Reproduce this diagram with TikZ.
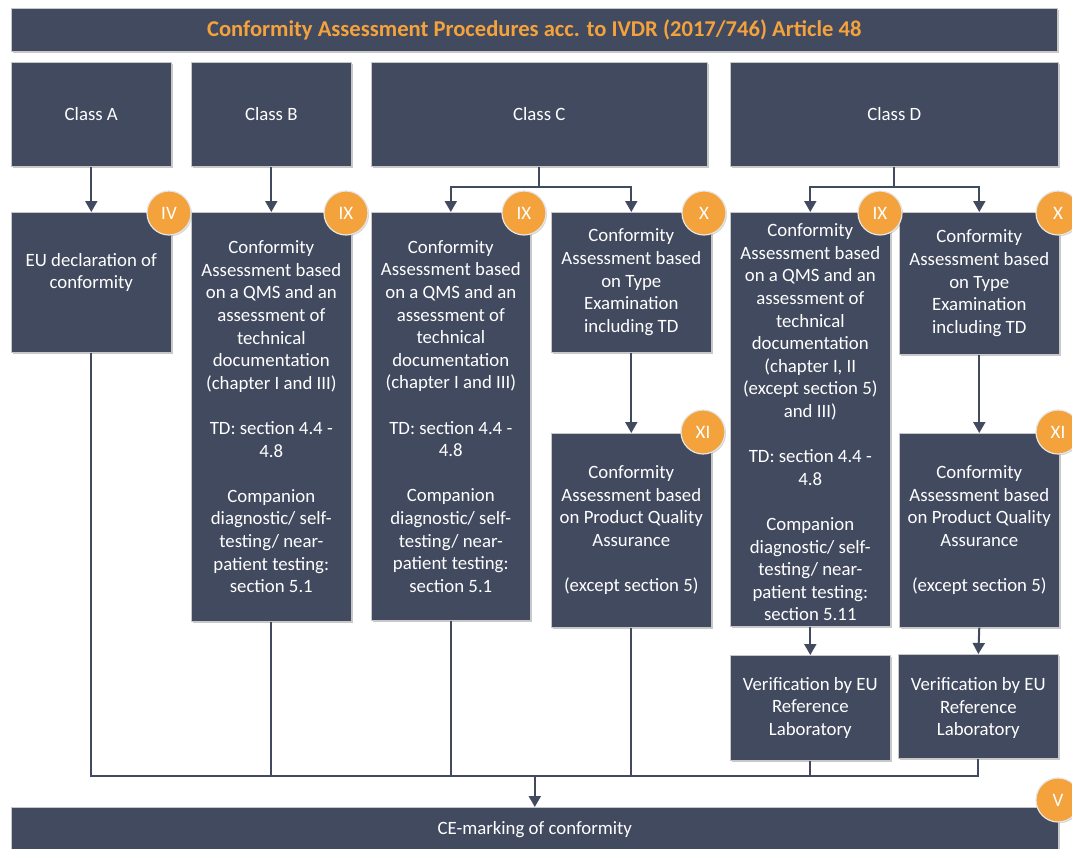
\documentclass[tikz,border=0pt]{standalone}
\usepackage{fontspec}
\setmainfont{Carlito}
\usetikzlibrary{arrows.meta,shadows}
\definecolor{slate}{HTML}{424A60}
\definecolor{amber}{HTML}{F4A23B}
\begin{document}
\begin{tikzpicture}[x=1pt,y=-1pt,
  box/.style={draw=black!22, line width=0.6pt, fill=slate, text=white, align=center,
    anchor=north west, inner sep=0pt, font=\fontsize{18.8}{22.6}\selectfont,
    drop shadow={shadow xshift=1.5pt, shadow yshift=-1.8pt, opacity=0.3, fill=black!70}},
  badge/.style={circle, fill=amber, draw=black!10, line width=1.2pt, minimum size=44pt,
    inner sep=0pt, text=white, font=\fontsize{19}{21}\selectfont,
    drop shadow={shadow xshift=1pt, shadow yshift=-1.2pt, opacity=0.25, fill=black!70}},
  link/.style={draw=slate, line width=2pt},
  arr/.style={link, -{Triangle[width=12pt,length=11pt]}}
]
\useasboundingbox (0,0) rectangle (1072,849);

% title bar
\node[box, minimum width=1046pt, minimum height=43pt, text=amber,
  font=\bfseries\fontsize{22.6}{26}\selectfont] (title) at (11,8)
  {Conformity Assessment Procedures acc. to IVDR (2017/746) Article 48};

% device classes
\node[box, minimum width=160pt, minimum height=104pt] (clA) at (11,62) {Class A};
\node[box, minimum width=160pt, minimum height=104pt] (clB) at (191,62) {Class B};
\node[box, minimum width=336pt, minimum height=104pt] (clC) at (371,62) {Class C};
\node[box, minimum width=328pt, minimum height=104pt] (clD) at (730,62) {Class D};

% procedures
\node[box, minimum width=160pt, minimum height=140pt] (eu) at (11,212)
  {EU declaration of\\conformity\\ \mbox{}};

\node[box, minimum width=160pt, minimum height=409pt] (qB) at (191,212)
  {Conformity\\Assessment based\\on a QMS and an\\assessment of\\technical\\documentation\\(chapter I and III)\\[22.6pt]
   TD: section 4.4 -\\4.8\\[22.6pt]
   Companion\\diagnostic/ self-\\testing/ near-\\patient testing:\\section 5.1};

\node[box, minimum width=159pt, minimum height=408pt] (qC) at (371,212)
  {Conformity\\Assessment based\\on a QMS and an\\assessment of\\technical\\documentation\\(chapter I and III)\\[22.6pt]
   TD: section 4.4 -\\4.8\\[22.6pt]
   Companion\\diagnostic/ self-\\testing/ near-\\patient testing:\\section 5.1};

\node[box, minimum width=160pt, minimum height=140pt] (tC) at (551,212)
  {Conformity\\Assessment based\\on Type\\Examination\\including TD};

\node[box, minimum width=160pt, minimum height=194pt] (pC) at (551,433)
  {Conformity\\Assessment based\\on Product Quality\\Assurance\\[22.6pt](except section 5)};

\node[box, minimum width=160pt, minimum height=414pt] (qD) at (730,212)
  {\rule{0pt}{19pt}Conformity\\Assessment based\\on a QMS and an\\assessment of\\technical\\documentation\\(chapter I, II\\(except section 5)\\and III)\\[22.6pt]
   TD: section 4.4 -\\4.8\\[22.6pt]
   Companion\\diagnostic/ self-\\testing/ near-\\patient testing:\\section 5.11};

\node[box, minimum width=160pt, minimum height=142pt] (tD) at (899,212)
  {Conformity\\Assessment based\\on Type\\Examination\\including TD};

\node[box, minimum width=160pt, minimum height=194pt] (pD) at (899,433)
  {Conformity\\Assessment based\\on Product Quality\\Assurance\\[22.6pt](except section 5)};

\node[box, minimum width=160pt, minimum height=105pt] (vD1) at (730,655)
  {Verification by EU\\Reference\\Laboratory};
\node[box, minimum width=160pt, minimum height=104pt] (vD2) at (898,654)
  {\rule{0pt}{17pt}Verification by EU\\Reference\\Laboratory};

% CE marking
\node[box, minimum width=1047pt, minimum height=44pt] (ce) at (11,807)
  {CE-marking of conformity};

% connectors from the classes
\draw[arr] (clA.south) -- (eu.north);
\draw[arr] (clB.south) -- (qB.north);
\draw[link] (clC.south) -- ++(0,20) coordinate (cfork);
\draw[arr] (cfork) -| (qC.north);
\draw[arr] (cfork) -| (tC.north);
\draw[link] (clD.south) -- ++(0,20) coordinate (dfork);
\draw[arr] (dfork) -| (qD.north);
\draw[arr] (dfork) -| (tD.north);

% follow-up steps
\draw[arr] (tC.south) -- (pC.north);
\draw[arr] (tD.south) -- (pD.north);
\draw[arr] (qD.south) -- (vD1.north);
\draw[arr] (pD.south) -- (vD2.north);

% collecting line to CE marking
\coordinate (mrow) at (0,776);
\draw[link] (eu.south) |- (vD2.south |- mrow) -- (vD2.south);
\foreach \n in {qB,qC,pC,vD1} \draw[link] (\n.south) -- (\n.south |- mrow);
\draw[arr] (ce.north |- mrow) -- (ce.north);

% annex badges
\node[badge] (bIV) at (169,213) {IV};
\node[badge] (bIXb) at (346,213) {IX};
\node[badge] (bIXc) at (524,213) {IX};
\node[badge] (bXc) at (704,213) {X};
\node[badge] (bIXd) at (880,213) {IX};
\node[badge] (bXd) at (1058,213) {X};
\node[badge] (bXIc) at (703,432) {XI};
\node[badge] (bXId) at (1058,432) {XI};
\node[badge] (bV) at (1058,800) {V};
\end{tikzpicture}
\end{document}
